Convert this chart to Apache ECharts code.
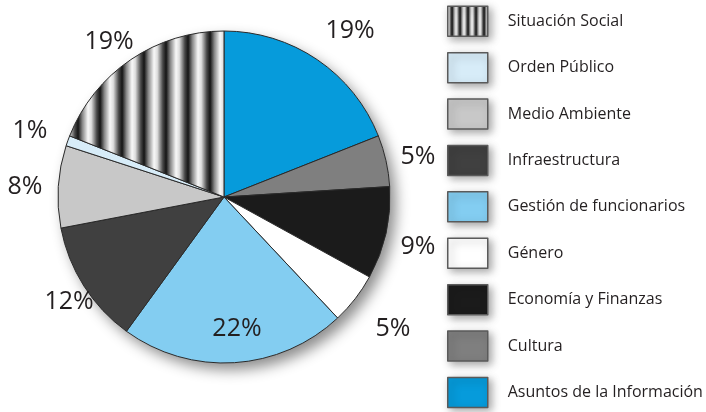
<!DOCTYPE html>
<html><head><meta charset="utf-8">
<script src="https://cdn.jsdelivr.net/npm/echarts@6/dist/echarts.min.js"></script>
<style>html,body{margin:0;padding:0;background:#fff}#c{width:706px;height:412px}</style>
</head><body><div id="c"></div>
<script>
const categories = ['Asuntos de la Información','Cultura','Economía y Finanzas','Género','Gestión de funcionarios','Infraestructura','Medio Ambiente','Orden Público','Situación Social'];
const values = [19, 5, 9, 5, 22, 12, 8, 1, 19];
const legendOrder = categories.slice().reverse();

// styling (not data)
const colors = ['#069bdb','#7f7f7f','#1b1b1b','#ffffff','#83cdf1','#404040','#c8c8c8','#d7ecf8', null];
const labelRadius = [1.265, 1.196, 1.204, 1.284, 0.787, 1.121, 1.201, 1.238, 1.172];
const labelAngleShift = [2.7, 0.4, 1.3, -0.2, -2.1, -1.2, -0.1, -0.5, -2.0];
const CX = 224, CY = 197, R = 166;

function stripes(period){
  const c = document.createElement('canvas'); c.width = period; c.height = 4;
  const g = c.getContext('2d'); const gr = g.createLinearGradient(0,0,period,0);
  gr.addColorStop(0,'#f8f8f8'); gr.addColorStop(0.15,'#dedede'); gr.addColorStop(0.4,'#484848');
  gr.addColorStop(0.55,'#141414'); gr.addColorStop(0.75,'#8a8a8a'); gr.addColorStop(1,'#f8f8f8');
  g.fillStyle = gr; g.fillRect(0,0,period,4); return c;
}
const bigStripe = {image: stripes(22), repeat: 'repeat'};
const smallStripe = {image: stripes(8), repeat: 'repeat'};

const total = values.reduce((a,b)=>a+b,0);
const cum = []; values.reduce((a,v,i)=>{cum[i]=a; return a+v;},0);

const pieData = categories.map((n,i)=>({
  name: n, value: values[i],
  itemStyle: {color: colors[i] || bigStripe}
}));

const chart = echarts.init(document.getElementById('c'), null, {renderer:'canvas'});
chart.setOption({
  animation: false,
  backgroundColor: '#ffffff',
  legend: {
    orient: 'vertical', left: 447, top: 5.5, padding: 0, height: 407,
    itemWidth: 40, itemHeight: 30, itemGap: 14.9,
    selectedMode: false,
    icon: 'rect',
    itemStyle: {borderColor: '#5a5a5a', borderWidth: 1.5, shadowBlur: 8, shadowColor: 'rgba(0,0,0,0.35)', shadowOffsetX: 3, shadowOffsetY: 3},
    textStyle: {fontFamily: 'Open Sans', fontSize: 16, color: '#231f20', padding: [0,0,0,15]},
    data: legendOrder.map(n => n === 'Situación Social' ? {name: n, itemStyle: {color: smallStripe}} : {name: n})
  },
  series: [
    {
      type: 'pie', silent: true, center: [CX, CY], radius: R, z: 1,
      label: {show: false}, labelLine: {show: false},
      itemStyle: {color: '#fff', shadowBlur: 14, shadowOffsetX: 6, shadowOffsetY: 7, shadowColor: 'rgba(0,0,0,0.45)'},
      data: [{name: '_bg', value: 1}]
    },
    {
      type: 'pie', center: [CX, CY], radius: R, startAngle: 90, clockwise: true, z: 2,
      avoidLabelOverlap: false,
      itemStyle: {borderColor: '#2a2a2a', borderWidth: 1},
      label: {show: true, position: 'outside', formatter: '{c}%', fontFamily: 'Open Sans', fontSize: 25, color: '#231f20'},
      labelLine: {show: false},
      labelLayout: function(p){
        if (p.seriesIndex !== 1) return {};
        const i = p.dataIndex;
        const th = ((cum[i] + values[i]/2) / total * 360 + labelAngleShift[i]) * Math.PI / 180;
        const k = labelRadius[i] * R;
        return {x: CX + k*Math.sin(th), y: CY - k*Math.cos(th) + 2, align: 'center', verticalAlign: 'middle'};
      },
      data: pieData
    }
  ]
});
</script></body></html>
